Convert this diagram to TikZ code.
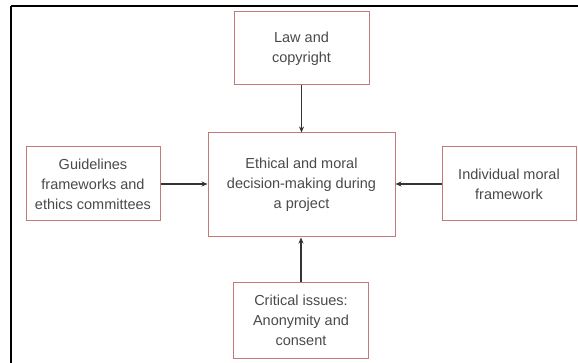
\documentclass[tikz,border=0pt]{standalone}
\usepackage{fontspec}
\setmainfont{Liberation Sans}
\usetikzlibrary{arrows.meta}
\definecolor{boxred}{HTML}{C47A78}
\definecolor{txtgray}{HTML}{4A4A4A}
\definecolor{arrgray}{HTML}{333333}
\begin{document}
\begin{tikzpicture}[x=1pt,y=-1pt,
  box/.style={draw=boxred, line width=1pt, fill=white, align=center, inner sep=0pt,
    text=txtgray, font=\fontsize{14.5pt}{20pt}\selectfont},
  conn/.style={draw=arrgray, line width=1.1pt, -{Stealth[length=6pt,width=5pt]}}]
\useasboundingbox (0,0) rectangle (578,363);
\fill[white] (0,0) rectangle (578,363);
\draw[black, line width=2.5pt] (11,6) -- (590,6);
\draw[black, line width=2.5pt] (11,6) -- (11,375);
\node[box, minimum width=135pt, minimum height=73pt] (law) at (301.5,48.5) {Law and\\copyright};
\node[box, minimum width=187pt, minimum height=104pt] (center) at (301.5,185) {Ethical and moral\\decision-making during\\a project};
\node[box, minimum width=134pt, minimum height=74pt] (guide) at (93,184) {Guidelines\\frameworks and\\ethics committees};
\node[box, minimum width=134pt, minimum height=74pt] (indiv) at (509,184) {Individual moral\\framework};
\node[box, minimum width=135pt, minimum height=75pt] (crit) at (301,320.5) {Critical issues:\\Anonymity and\\consent};
\draw[conn] (law) -- (center);
\draw[conn] (guide) -- (guide -| center.west);
\draw[conn] (indiv) -- (indiv -| center.east);
\draw[conn] (crit) -- (crit |- center.south);
\end{tikzpicture}
\end{document}
